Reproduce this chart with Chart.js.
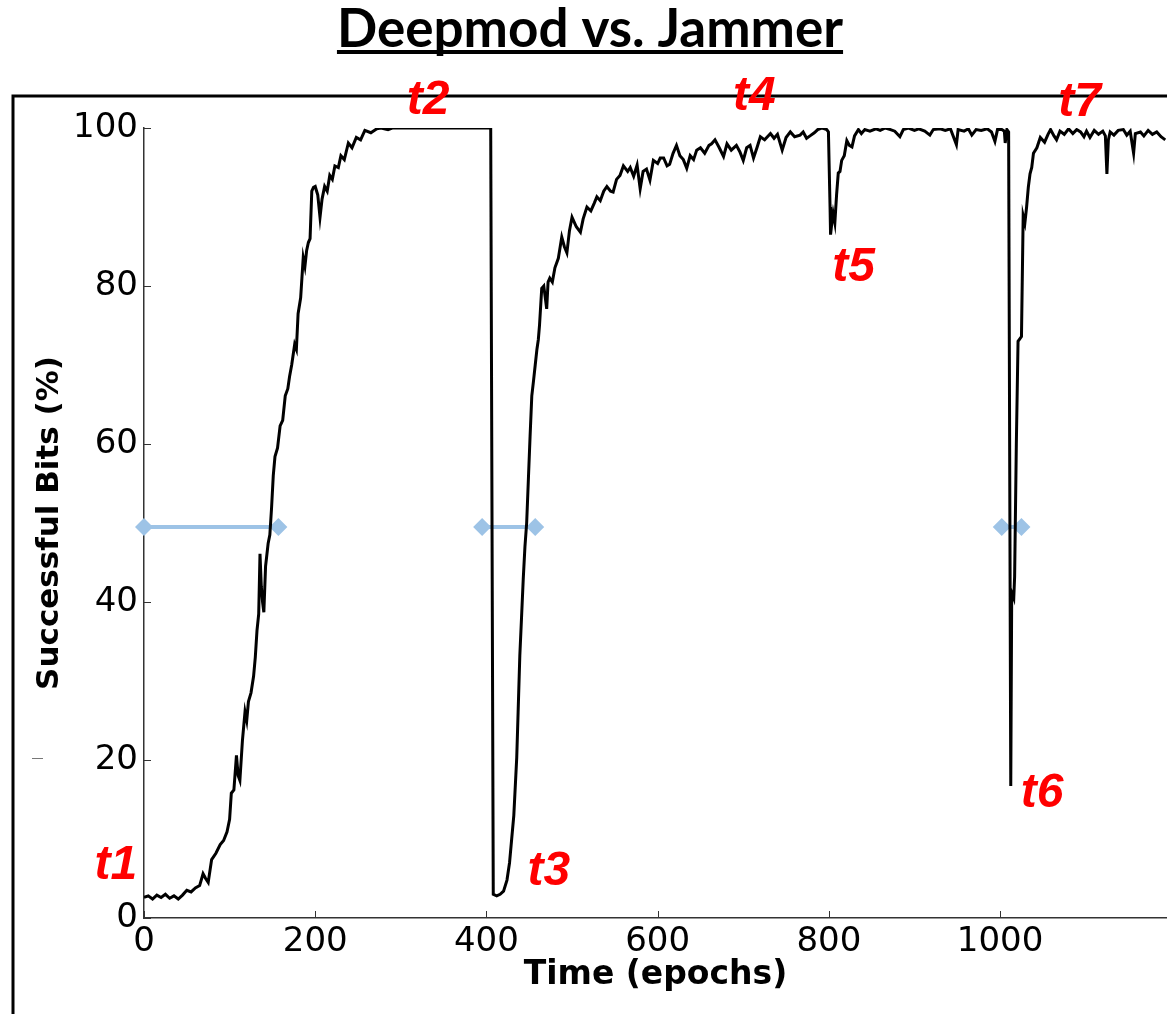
<!DOCTYPE html>
<html>
<head>
<meta charset="utf-8">
<script src="https://cdn.jsdelivr.net/npm/chart.js@4/dist/chart.umd.min.js"></script>
<style>
  html, body { margin: 0; padding: 0; background: #fff; }
  canvas { display: block; }
</style>
</head>
<body>
<canvas id="myChart" width="1167" height="1014"></canvas>
<script>
// successful bits (%) against training time (epochs)
var epochs = [
    0, 5, 10, 15, 20, 25, 30, 35, 40, 45, 50, 55, 60, 65, 69, 72, 75, 79, 84, 89,
    93, 97, 100, 102, 105, 108, 110, 112, 115, 118, 120, 122, 125, 128, 130, 132, 134, 135.5, 137, 138.5,
    140, 142, 145, 147, 149, 151, 153, 156, 159, 162, 165, 168, 170, 172.5, 176, 178, 180, 183, 186, 188,
    190, 192, 194, 196, 198, 200, 203, 205.6, 208, 211, 214, 217, 220, 223, 227, 230, 234, 238.7, 243, 248,
    253, 258, 265, 272, 277, 285, 290, 300, 350, 404, 405, 408, 412, 416, 420, 424, 427, 429.5, 432, 435.4,
    437, 439, 441, 443, 445, 447, 449, 451, 453, 455, 457, 459, 460.6, 462, 464.6, 467, 470.4, 472, 474, 477,
    480, 484, 488, 491, 494, 497, 500, 505, 509.8, 513, 517.4, 522, 526, 529, 533, 537, 540.7, 545, 548, 552,
    556, 560, 565, 568, 572, 576, 579.6, 583, 587, 591, 595, 600, 603, 607, 611, 614, 618, 622, 626, 630,
    634, 638, 642, 645.6, 650, 655, 660, 663, 667, 672, 677, 681, 686, 692, 696, 700, 704, 708, 712, 716,
    720, 725, 731.8, 736, 740, 745.5, 750, 755, 760, 766.4, 770, 774, 778, 783, 787, 791.6, 795, 797.5, 799.5, 801.4,
    802, 803.5, 805, 807, 809, 811, 813, 815, 818, 821, 824, 827, 830, 834.5, 838, 842, 848, 855, 860, 866,
    872, 877, 883, 887, 893, 900, 905, 912, 918, 922, 930, 936, 942, 949, 951, 958, 963, 967, 972, 978,
    985, 990, 994, 997, 1002, 1005, 1006, 1008, 1010, 1012.5, 1013.6, 1016, 1017, 1019, 1021, 1025, 1027, 1029, 1031, 1033,
    1035, 1037, 1039, 1043, 1047, 1052, 1056, 1059, 1063, 1066, 1070, 1075, 1080, 1085, 1089.5, 1094, 1098, 1101, 1105, 1110,
    1115, 1120, 1123, 1124.8, 1126.5, 1128.6, 1133, 1138, 1144, 1148, 1152, 1156, 1158, 1164, 1168, 1173, 1178, 1183, 1188, 1193
];
var bits = [
    2.6, 2.8, 2.4, 2.9, 2.6, 3.0, 2.5, 2.8, 2.4, 2.9, 3.5, 3.3, 3.8, 4.1, 5.6, 5.0, 4.5, 7.4, 8.2, 9.3,
    9.8, 10.9, 12.5, 15.8, 16.2, 20.6, 18.0, 17.4, 22.5, 26.1, 25.0, 27.4, 28.5, 30.6, 33.0, 36.4, 38.5, 46.1, 42.0, 40.0,
    38.7, 44.5, 47.4, 48.5, 51.9, 56.0, 58.4, 59.5, 62.3, 63.0, 66.1, 67.0, 68.5, 70.0, 72.6, 72.0, 76.5, 78.5, 83.6, 82.5,
    84.5, 85.5, 86.0, 92.0, 92.5, 92.6, 91.5, 88.7, 91.0, 92.6, 92.0, 94.0, 93.5, 95.2, 95.0, 96.5, 96.0, 98.1, 97.5, 98.8,
    98.5, 99.7, 99.4, 99.9, 100, 99.8, 100, 100, 100, 100, 100, 3.0, 2.8, 3.0, 3.4, 4.8, 7.0, 10.0, 13.0, 20.3,
    26.0, 33.2, 38.0, 42.9, 47.0, 50.0, 55.5, 61.0, 66.1, 68.0, 70.0, 72.0, 73.2, 75.0, 79.7, 80.0, 77.1, 80.5, 81.0, 80.5,
    82.3, 83.5, 86.2, 85.0, 84.2, 87.0, 88.7, 87.5, 86.8, 88.5, 90.0, 89.5, 90.5, 91.3, 90.8, 92.0, 92.6, 92.0, 91.9, 93.5,
    94.0, 95.2, 94.5, 95.0, 93.9, 95.3, 92.3, 94.5, 94.8, 93.4, 95.9, 95.5, 96.2, 96.2, 95.2, 95.4, 96.8, 97.8, 96.5, 96.0,
    94.9, 96.5, 96.0, 97.2, 97.5, 96.8, 97.8, 98.0, 98.5, 97.5, 96.4, 98.0, 97.2, 97.8, 97.0, 95.9, 97.5, 97.8, 96.2, 97.5,
    98.9, 98.5, 99.3, 98.7, 99.2, 97.2, 98.8, 99.5, 98.9, 99.1, 99.5, 98.7, 99.0, 99.4, 99.8, 100, 99.9, 99.8, 99.5, 90.0,
    86.5, 88.0, 89.2, 88.0, 91.5, 94.3, 94.5, 95.9, 96.5, 98.4, 97.8, 97.6, 99.0, 99.8, 99.3, 99.8, 99.6, 99.9, 99.7, 100,
    99.8, 99.6, 98.9, 99.8, 100, 99.7, 99.9, 99.6, 99.1, 99.8, 99.9, 99.7, 99.9, 97.9, 99.8, 99.6, 99.9, 99.1, 99.8, 99.7,
    99.9, 99.5, 98.3, 99.8, 99.8, 99.6, 98.1, 99.8, 99.5, 16.7, 41.2, 40.5, 43.2, 60.0, 73.0, 73.6, 88.9, 88.0, 90.0, 92.5,
    94.2, 95.0, 96.8, 97.5, 98.8, 98.2, 99.2, 99.8, 99.0, 98.5, 99.6, 99.2, 99.9, 99.3, 99.8, 99.5, 98.9, 99.6, 98.8, 99.7,
    99.2, 99.6, 99.0, 94.2, 98.5, 99.5, 99.1, 99.7, 99.8, 99.1, 99.6, 96.8, 99.3, 99.5, 99.0, 99.7, 99.2, 99.5, 98.9, 98.5
];

// recovery spans (blue double markers), at 50% level
var spanStart = [0, 395, 1002];
var spanEnd = [157, 457, 1025];
var spanLevel = 49.5;

// red event labels
var eventText = ["t1", "t2", "t3", "t4", "t5", "t6", "t7"];
var eventX = [-33, 332, 473, 713, 829, 1049, 1093];
var eventY = [6.6, 103.5, 5.8, 103.9, 82.3, 15.7, 103.2];

var xTicks = [0, 200, 400, 600, 800, 1000];
var yTicks = [0, 20, 40, 60, 80, 100];

var lineData = epochs.map(function (e, i) {
    return { x: e, y: bits[i] };
});

var datasets = [
    {
        label: "Deepmod",
        data: lineData,
        borderColor: "#000000",
        borderWidth: 3,
        pointRadius: 0,
        tension: 0,
    },
];
spanStart.forEach(function (s, i) {
    datasets.push({
        label: "span " + (i + 1),
        data: [
            { x: s, y: spanLevel },
            { x: spanEnd[i], y: spanLevel },
        ],
        borderColor: "#9dc3e6",
        borderWidth: 4,
        pointStyle: "rectRot",
        pointRadius: 9,
        pointBackgroundColor: "#9dc3e6",
        pointBorderWidth: 0,
        clip: false,
    });
});

// page frame, underlined title and the red t-labels
var decorations = {
    id: "decorations",
    beforeDraw: function (chart) {
        var ctx = chart.ctx;
        ctx.save();
        ctx.strokeStyle = "#000";
        ctx.lineWidth = 3;
        ctx.strokeRect(13, 96, 2000, 2000);
        ctx.lineWidth = 1;
        ctx.strokeStyle = "#777";
        ctx.beginPath();
        ctx.moveTo(32, 758.5);
        ctx.lineTo(43, 758.5);
        ctx.stroke();

        var title = "Deepmod vs. Jammer";
        ctx.font = 'bold 53px "Lato"';
        ctx.fillStyle = "#000";
        ctx.textAlign = "center";
        ctx.textBaseline = "alphabetic";
        ctx.fillText(title, 590, 47);
        var w = ctx.measureText(title).width;
        ctx.fillRect(590 - w / 2, 50, w, 4);
        ctx.restore();
    },
    afterDraw: function (chart) {
        var ctx = chart.ctx;
        var xs = chart.scales.x;
        var ys = chart.scales.y;
        ctx.save();
        // inward tick marks
        ctx.strokeStyle = "#333";
        ctx.lineWidth = 1;
        ctx.beginPath();
        yTicks.forEach(function (v) {
            var py = Math.round(ys.getPixelForValue(v)) + 0.5;
            ctx.moveTo(chart.chartArea.left, py);
            ctx.lineTo(chart.chartArea.left + 7, py);
        });
        xTicks.forEach(function (v) {
            var px = Math.round(xs.getPixelForValue(v)) + 0.5;
            ctx.moveTo(px, chart.chartArea.bottom);
            ctx.lineTo(px, chart.chartArea.bottom - 7);
        });
        ctx.stroke();

        ctx.font = 'italic bold 48px "Liberation Sans"';
        ctx.fillStyle = "#ff0000";
        ctx.textAlign = "center";
        ctx.textBaseline = "middle";
        eventText.forEach(function (t, i) {
            ctx.fillText(t, xs.getPixelForValue(eventX[i]), ys.getPixelForValue(eventY[i]));
        });
        ctx.restore();
    },
};

document.addEventListener("DOMContentLoaded", function () {
    var ctx = document.getElementById("myChart").getContext("2d");
    var myChart = new Chart(ctx, {
        type: "line",
        data: { datasets: datasets },
        plugins: [decorations],
        options: {
            responsive: false,
            animation: false,
            events: [],
            layout: {
                autoPadding: false,
                padding: { top: 128, left: 0, right: 0, bottom: 0 },
            },
            plugins: {
                legend: { display: false },
                title: { display: false },
                tooltip: { enabled: false },
            },
            scales: {
                x: {
                    type: "linear",
                    min: 0,
                    max: 1195,
                    afterFit: function (scale) {
                        scale.height = 96;
                    },
                    afterBuildTicks: function (scale) {
                        scale.ticks = xTicks.map(function (v) {
                            return { value: v };
                        });
                    },
                    grid: { display: false, drawTicks: false },
                    border: { display: true, color: "#333", width: 1.5 },
                    ticks: {
                        color: "#000",
                        padding: 4,
                        maxRotation: 0,
                        font: { family: "DejaVu Sans", size: 34 },
                        callback: function (value) {
                            return String(value);
                        },
                    },
                    title: {
                        display: true,
                        text: "Time (epochs)",
                        color: "#000",
                        padding: { top: 0, bottom: 19 },
                        font: { family: "DejaVu Sans", size: 33, weight: "bold" },
                    },
                },
                y: {
                    min: 0,
                    max: 100,
                    afterFit: function (scale) {
                        scale.width = 144;
                    },
                    afterBuildTicks: function (scale) {
                        scale.ticks = yTicks.map(function (v) {
                            return { value: v };
                        });
                    },
                    grid: { display: false, drawTicks: false },
                    border: { display: true, color: "#333", width: 1.5 },
                    ticks: {
                        color: "#000",
                        padding: 6,
                        font: { family: "DejaVu Sans", size: 34 },
                    },
                    title: {
                        display: true,
                        text: "Successful Bits (%)",
                        color: "#000",
                        padding: { top: 31, bottom: 0 },
                        font: { family: "DejaVu Sans", size: 31, weight: "bold" },
                    },
                },
            },
        },
    });
});
</script>
</body>
</html>
